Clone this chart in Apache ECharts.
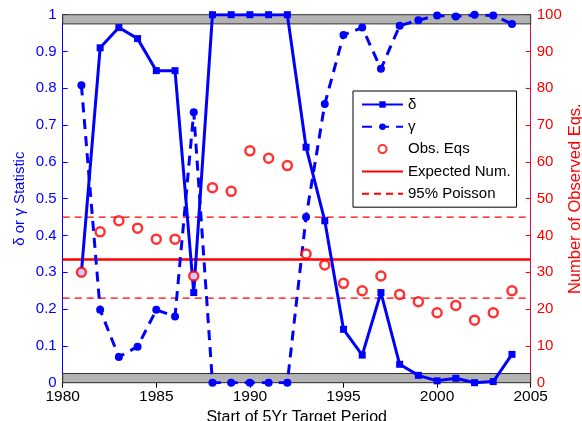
<!DOCTYPE html>
<html><head><meta charset="utf-8">
<script src="https://cdn.jsdelivr.net/npm/echarts@6/dist/echarts.min.js"></script>
<style>html,body{margin:0;padding:0;background:#fff}#c{width:582px;height:421px}</style>
</head><body><div id="c"></div>
<script>
const years = [1981,1982,1983,1984,1985,1986,1987,1988,1989,1990,1991,1992,1993,1994,1995,1996,1997,1998,1999,2000,2001,2002,2003,2004];
const deltaVals = [0.30,0.91,0.965,0.935,0.848,0.848,0.245,1.0,1.0,1.0,1.0,1.0,0.64,0.44,0.145,0.075,0.245,0.05,0.02,0.005,0.012,0.0,0.003,0.077];
const gammaVals = [0.808,0.198,0.07,0.098,0.198,0.18,0.735,0,0,0,0,0,0.45,0.757,0.945,0.965,0.853,0.97,0.985,0.998,0.995,1.0,0.998,0.975];
const obsEqs = [30,41,44,42,39,39,29,53,52,63,61,59,35,32,27,25,29,24,22,19,21,17,19,25];
const expectedNum = 33.5;
const poissonUpper = 45;
const poissonLower = 23;
const xTicks = [1980,1985,1990,1995,2000,2005];
const bandLow = [0, 0.025];
const bandHigh = [0.975, 1];

const BLUE = '#0000ff', RED = '#ff0000';
const font = 'Liberation Sans, Arial, sans-serif';
const pair = (xs, ys) => xs.map((x,i)=>[x, ys[i]]);
const hline = (v) => [[xTicks[0], v],[xTicks[xTicks.length-1], v]];

const chart = echarts.init(document.getElementById('c'), null, {renderer:'canvas'});
chart.setOption({
  animation:false,
  textStyle:{fontFamily:font},
  grid:{left:62.7, right:51.3, top:14.7, bottom:38.3, show:false, containLabel:false, outerBoundsMode:'none'},
  legend:{
    left:353, top:91, orient:'vertical', padding:[6,6,6,8],
    borderColor:'#000', borderWidth:1, backgroundColor:'#fff',
    itemWidth:41, itemHeight:8, itemGap:7.3,
    textStyle:{fontSize:15, color:'#000', fontFamily:font},
    data:[
      {name:'δ'},
      {name:'γ'},
      {name:'Obs. Eqs'},
      {name:'Expected Num.', itemStyle:{opacity:0}},
      {name:'95% Poisson', itemStyle:{opacity:0}}
    ]
  },
  xAxis:[{
    type:'value', min:1980, max:2005, interval:5,
    name:'Start of 5Yr Target Period', nameLocation:'middle', nameGap:21,
    nameTextStyle:{fontSize:16, color:'#000', fontFamily:font},
    axisLine:{show:true, lineStyle:{color:'#000', width:1}},
    axisTick:{show:true, inside:true, length:5, lineStyle:{color:'#000'}},
    axisLabel:{color:'#000', fontSize:15.5, margin:6, fontFamily:font, formatter:v=>String(v)},
    splitLine:{show:false}
  },{
    type:'value', min:1980, max:2005, interval:5, position:'top',
    axisLine:{show:true, lineStyle:{color:'#000', width:1}},
    axisTick:{show:true, inside:true, length:5, lineStyle:{color:'#000'}},
    axisLabel:{show:false}, splitLine:{show:false}
  }],
  yAxis:[{
    type:'value', min:0, max:1, interval:0.1, position:'left',
    name:'δ or γ Statistic', nameLocation:'middle', nameGap:35, nameRotate:90, nameMoveOverlap:false,
    nameTextStyle:{fontSize:15, color:BLUE, fontFamily:font},
    axisLine:{show:true, lineStyle:{color:BLUE, width:1}},
    axisTick:{show:true, inside:true, length:5, lineStyle:{color:BLUE}},
    axisLabel:{color:BLUE, fontSize:15, margin:6, fontFamily:font, formatter:v=>String(Number(v.toFixed(1)))},
    splitLine:{show:false}
  },{
    type:'value', min:0, max:100, interval:10, position:'right',
    name:'Number of Observed Eqs.', nameLocation:'middle', nameGap:36, nameRotate:90, nameMoveOverlap:false,
    nameTextStyle:{fontSize:16.5, color:RED, fontFamily:font},
    axisLine:{show:true, lineStyle:{color:'#d0104a', width:1}},
    axisTick:{show:true, inside:true, length:5, lineStyle:{color:RED}},
    axisLabel:{color:RED, fontSize:15, margin:6, fontFamily:font},
    splitLine:{show:false}
  }],
  series:[
    {type:'line', name:'bands', data:[], xAxisIndex:0, yAxisIndex:0, z:1, silent:true,
     markArea:{silent:true, itemStyle:{color:'#b3b3b3', borderColor:'#333', borderWidth:1},
       data:[[{yAxis:bandLow[0]},{yAxis:bandLow[1]}],[{yAxis:bandHigh[0]},{yAxis:bandHigh[1]}]]}},
    {type:'line', name:'Expected Num.', yAxisIndex:1, data:hline(expectedNum), symbol:'none', z:3,
     lineStyle:{color:RED, width:2.5}, itemStyle:{color:RED}},
    {type:'line', name:'95% Poisson', yAxisIndex:1, data:hline(poissonUpper), symbol:'none', z:3,
     lineStyle:{color:RED, width:1.3, type:[7,5]}, itemStyle:{color:RED}},
    {type:'line', name:'95% Poisson', yAxisIndex:1, data:hline(poissonLower), symbol:'none', z:3,
     lineStyle:{color:RED, width:1.3, type:[7,5]}, itemStyle:{color:RED}},
    {type:'line', name:'γ', yAxisIndex:0, data:pair(years,gammaVals), symbol:'circle', symbolSize:8, z:4,
     lineStyle:{color:BLUE, width:3, type:[10,7]}, itemStyle:{color:BLUE}},
    {type:'line', name:'δ', yAxisIndex:0, data:pair(years,deltaVals), symbol:'rect', symbolSize:7, z:5,
     lineStyle:{color:BLUE, width:3}, itemStyle:{color:BLUE}},
    {type:'scatter', name:'Obs. Eqs', yAxisIndex:1, data:pair(years,obsEqs), symbol:'circle', symbolSize:9, z:6,
     itemStyle:{color:'#fff', borderColor:RED, borderWidth:2.5}}
  ]
});
</script></body></html>
